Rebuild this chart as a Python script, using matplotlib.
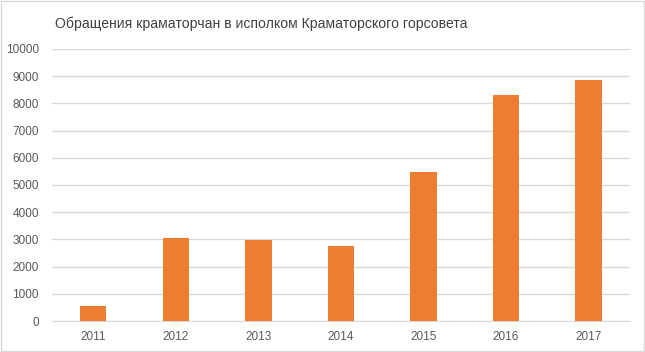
import matplotlib.pyplot as plt
from matplotlib.patches import Rectangle

years = ['2011', '2012', '2013', '2014', '2015', '2016', '2017']
requests = [540, 3040, 2970, 2750, 5470, 8320, 8860]
title = 'Обращения краматорчан в исполком Краматорского горсовета'

plt.rcParams['font.family'] = ['Liberation Sans', 'DejaVu Sans']

fig = plt.figure(figsize=(6.45, 3.52), dpi=100)
ax = fig.add_axes([0.0806, 0.088, 0.896, 0.773])

x = range(len(years))
ax.bar(x, requests, width=0.32, color='#ED7D31', zorder=3)

ax.set_xlim(-0.5, len(years) - 0.5)
ax.set_ylim(0, 10000)
ax.set_yticks(range(0, 10001, 1000))
ax.set_xticks(list(x))
ax.set_xticklabels(years)
ax.grid(axis='y', color='#d9d9d9', linewidth=1, zorder=0)
for s in ['top', 'right', 'left']:
    ax.spines[s].set_visible(False)
ax.spines['bottom'].set_color('#d9d9d9')
ax.tick_params(length=0, colors='#595959', labelsize=8.5)
ax.tick_params(axis='y', pad=9.5)
ax.tick_params(axis='x', pad=7)

fig.text(0.405, 0.933, title, ha='center', va='center', fontsize=10.1, color='#404040')

# chart border
fig.patches.append(Rectangle((0.002, 0.002), 0.996, 0.996, transform=fig.transFigure,
                             fill=False, edgecolor='#d9d9d9', linewidth=1))

fig.savefig('out.png', dpi=100)
